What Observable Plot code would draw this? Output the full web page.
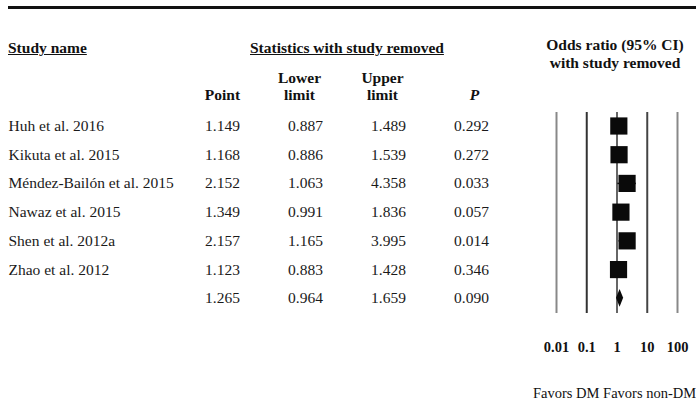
<!DOCTYPE html>
<html><head><meta charset="utf-8">
<script src="https://cdn.jsdelivr.net/npm/d3@7"></script>
<script src="https://cdn.jsdelivr.net/npm/@observablehq/plot@0.6"></script>
<style>
html,body{margin:0;padding:0;background:#fff;}
#wrap{position:relative;width:696px;height:400px;overflow:hidden;font-family:"Liberation Serif","Times New Roman",serif;color:#111;}
#wrap svg{position:absolute;top:0;}
.h{position:absolute;font-weight:bold;font-size:15.5px;line-height:18px;white-space:nowrap;}
</style></head><body>
<div id="wrap">
  <div style="position:absolute;left:8px;right:0;top:6px;height:3px;background:#111"></div>
  <div class="h" style="left:8px;top:39px;text-decoration:underline">Study name</div>
  <div class="h" style="left:250px;top:39px;text-decoration:underline">Statistics with study removed</div>
  <div class="h" style="left:500px;width:230px;top:36px;text-align:center">Odds ratio (95% CI)<br>with study removed</div>
  <div style="position:absolute;left:533px;top:386px;font-size:14.5px;line-height:15px;white-space:nowrap">Favors DM Favors non-DM</div>
</div>
<script>
const studies = ["Huh et al. 2016","Kikuta et al. 2015","Méndez-Bailón et al. 2015","Nawaz et al. 2015","Shen et al. 2012a","Zhao et al. 2012",""];
const point = [1.149,1.168,2.152,1.349,2.157,1.123,1.265];
const lower = [0.887,0.886,1.063,0.991,1.165,0.883,0.964];
const upper = [1.489,1.539,4.358,1.836,3.995,1.428,1.659];
const pValue = [0.292,0.272,0.033,0.057,0.014,0.346,0.090];
const columns = ["Point","Lower","Upper","P"];
const columnLabels = {Point:"Point", Lower:"Lower\nlimit", Upper:"Upper\nlimit", P:"P"};
const oddsTicks = [0.01,0.1,1,10,100];

const fmt = d3.format(".3f");
const rows = studies.map((s,i)=>({i, study:s, point:point[i], lower:lower[i], upper:upper[i], p:pValue[i]}));
const studyRows = rows.slice(0,6);
const summary = rows[6];
const cells = rows.flatMap(r => [
  {i:r.i, col:"Point", v:r.point},
  {i:r.i, col:"Lower", v:r.lower},
  {i:r.i, col:"Upper", v:r.upper},
  {i:r.i, col:"P", v:r.p}
]);
const yDomain = [-0.47, 6.53];
const font = '"Liberation Serif","Times New Roman",serif';
const halfH = 0.31;
const diamond = [
  {y:summary.i - halfH, x1:summary.point, x2:summary.point},
  {y:summary.i, x1:summary.lower, x2:summary.upper},
  {y:summary.i + halfH, x1:summary.point, x2:summary.point}
];
const lineColors = ["#888","#333","#666","#444","#888"];

const table = Plot.plot({
  width:500, height:400, marginTop:112, marginBottom:87, marginLeft:8, marginRight:0,
  style:{fontFamily:font, fontSize:"15.5px", background:"transparent", color:"#111"},
  x:{type:"point", domain:columns, range:[221.5,470.5], padding:0, axis:null},
  y:{domain:yDomain, reverse:true, axis:null},
  marks:[
    Plot.text(rows, {y:"i", text:"study", frameAnchor:"left", textAnchor:"start", fill:"#1a1a1a", fontSize:15.5}),
    Plot.text(cells, {x:"col", y:"i", text:d=>fmt(d.v), fill:"#1a1a1a", fontSize:15.5}),
    Plot.text(["Point"], {x:d=>d, text:d=>columnLabels[d], frameAnchor:"top", lineAnchor:"bottom", dy:-13, fontWeight:"bold", fontSize:15.5, fill:"#111"}),
    Plot.text(["Lower","Upper"], {x:d=>d, text:d=>columnLabels[d], frameAnchor:"top", lineAnchor:"bottom", dy:-13, dx:-6, lineHeight:1.08, fontWeight:"bold", fontSize:15.5, fill:"#111"}),
    Plot.text(["P"], {x:d=>d, text:d=>columnLabels[d], frameAnchor:"top", lineAnchor:"bottom", dy:-13, dx:3, fontWeight:"bold", fontStyle:"italic", fontSize:15.5, fill:"#111"})
  ]
});
table.style.left = "0px";

const forest = Plot.plot({
  width:196, height:400, marginTop:112, marginBottom:87, marginLeft:56, marginRight:19,
  style:{fontFamily:font, fontSize:"14.5px", fontWeight:"bold", background:"transparent", color:"#111"},
  x:{type:"log", domain:[0.01,100]},
  y:{domain:yDomain, reverse:true, axis:null},
  color:{type:"identity"},
  marks:[
    Plot.ruleX(oddsTicks, {x:d=>d, stroke:(d,i)=>lineColors[i], strokeWidth:2}),
    Plot.ruleY(studyRows, {y:"i", x1:"lower", x2:"upper", stroke:"#111", strokeWidth:1.5}),
    Plot.dot(studyRows, {x:"point", y:"i", symbol:"square", r:9.7, fill:"#0a0a0a", stroke:"none"}),
    Plot.areaX(diamond, {y:"y", x1:"x1", x2:"x2", fill:"#0a0a0a"}),
    Plot.axisX({ticks:oddsTicks, tickFormat:d=>String(d), tickSize:0, tickPadding:28, anchor:"bottom", label:null, fontWeight:"bold", fontSize:14.5, fill:"#111"})
  ]
});
forest.style.left = "500px";

const wrap = document.getElementById("wrap");
wrap.appendChild(table);
wrap.appendChild(forest);
</script>
</body></html>
